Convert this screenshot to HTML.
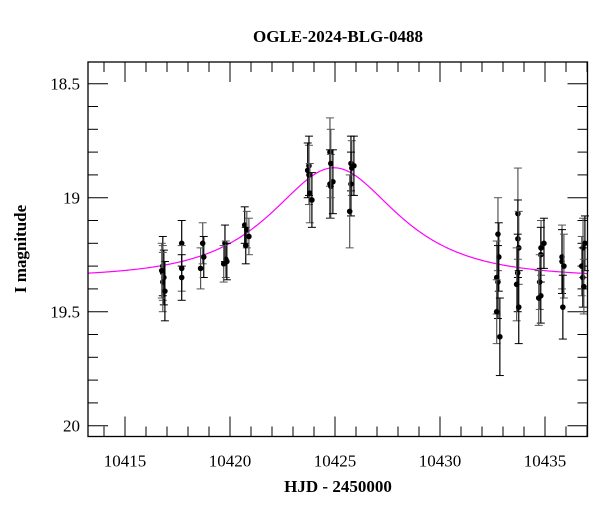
<!DOCTYPE html>
<html><head><meta charset="utf-8"><style>
html,body{margin:0;padding:0;background:#fff;}
svg{display:block;font-family:"Liberation Serif",serif;}
</style></head><body>
<svg id="chart" width="600" height="512" viewBox="0 0 600 512" xmlns="http://www.w3.org/2000/svg">
<text x="338" y="42" text-anchor="middle" font-size="17" font-weight="bold">OGLE-2024-BLG-0488</text>
<text x="338" y="492" text-anchor="middle" font-size="17" font-weight="bold">HJD - 2450000</text>
<text x="26" y="249" text-anchor="middle" font-size="17" font-weight="bold" transform="rotate(-90 26 249)">I magnitude</text>
<g id="axes"></g>
<g id="model"></g>
<g id="points"></g>
<rect x="88" y="62" width="499.5" height="374.5" fill="none" stroke="#000" stroke-width="1.3"/>
</svg>
<script>
const times = [10416.8,10416.8,10416.85,10416.8,10416.9,10416.75,
10417.7,10417.7,10417.7,
10418.7,10418.75,10418.6,
10419.76,10419.8,10419.85,10419.7,
10420.7,10420.8,10420.75,10420.9,
10423.76,10423.76,10423.7,10423.8,10423.9,
10424.76,10424.76,10424.8,10424.9,10424.8,
10425.76,10425.8,10425.76,10425.7,10425.9,
10432.76,10432.8,10432.7,10432.76,10432.7,10432.85,
10433.71,10433.71,10433.75,10433.7,10433.65,10433.75,
10434.81,10434.8,10434.75,10434.8,10434.7,10434.95,
10435.81,10435.81,10435.9,10435.85,
10436.81,10436.9,10436.75,10436.8,10436.85];
const mags = [19.30,19.33,19.35,19.37,19.41,19.32,
19.20,19.31,19.35,
19.20,19.26,19.31,
19.20,19.27,19.28,19.29,
19.12,19.14,19.21,19.17,
18.86,18.90,18.88,18.98,19.01,
18.80,18.94,18.95,18.93,18.85,
18.85,18.87,18.94,19.06,18.86,
19.16,19.26,19.35,19.37,19.50,19.61,
19.07,19.18,19.22,19.33,19.38,19.48,
19.22,19.25,19.37,19.43,19.44,19.20,
19.26,19.28,19.30,19.48,
19.22,19.20,19.30,19.35,19.39];
const errs = [0.13,0.12,0.12,0.13,0.13,0.12,
0.1,0.1,0.1,
0.09,0.09,0.09,
0.08,0.08,0.08,0.08,
0.08,0.08,0.08,0.08,
0.13,0.13,0.12,0.13,0.12,
0.15,0.15,0.14,0.14,0.15,
0.12,0.12,0.14,0.16,0.13,
0.16,0.15,0.16,0.16,0.14,0.17,
0.2,0.17,0.16,0.17,0.16,0.16,
0.12,0.12,0.12,0.12,0.12,0.11,
0.14,0.14,0.14,0.14,
0.13,0.12,0.13,0.13,0.12];
// model parameters
const modelBase = [19.35];
const modelT0 = [10424.95];
const modelU0 = [0.78];
const modelTE = [4.1];
const xTicks = [10415,10420,10425,10430,10435];
const yTicks = [18.5,19,19.5,20];

const NS='http://www.w3.org/2000/svg';
const X0=88,X1=587.5,Y0=62,Y1=436.5;
function xs(t){return 230+(t-10420)*21;}
function ys(m){return 197.7+(m-19)*228;}
const tMin=10420+(X0-230)/21, tMax=10420+(X1-230)/21;
const mMin=19+(Y0-197.7)/228, mMax=19+(Y1-197.7)/228;
function mk(tag,attrs,parent){const e=document.createElementNS(NS,tag);for(const k in attrs)e.setAttribute(k,attrs[k]);parent.appendChild(e);return e;}

const axes=document.getElementById('axes');
for(let t=Math.ceil(tMin);t<=tMax;t++){
  const major=xTicks.includes(t);const L=major?20:10;const x=xs(t);
  const a=mk('line',{x1:x,x2:x,y1:Y1,y2:Y1-L,stroke:'#000','stroke-width':1},axes);
  
  
  const b=mk('line',{x1:x,x2:x,y1:Y0,y2:Y0+L,stroke:'#000','stroke-width':1},axes);
  
  
}
xTicks.forEach(t=>{
  const tx=mk('text',{x:xs(t),y:Y1+30,'text-anchor':'middle','font-size':17},axes);
  tx.textContent=String(t);
  
  
});
for(let i=Math.ceil(mMin*10);i<=Math.floor(mMax*10);i++){
  const m=i/10;const major=(i%5===0);const L=major?20:10;const y=ys(m);
  const a=mk('line',{x1:X0,x2:X0+L,y1:y,y2:y,stroke:'#000','stroke-width':1},axes);
  
  
  const b=mk('line',{x1:X1,x2:X1-L,y1:y,y2:y,stroke:'#000','stroke-width':1},axes);
  
  
}
yTicks.forEach(m=>{
  const tx=mk('text',{x:X0-8,y:ys(m)+6,'text-anchor':'end','font-size':17},axes);
  tx.textContent=String(m);
  
  
});

// model curve
function ampl(u){return (u*u+2)/(u*Math.sqrt(u*u+4));}
let d='';
for(let px=X0;px<=X1;px+=1){
  const t=10420+(px-230)/21;
  const tau=(t-modelT0[0])/modelTE[0];
  const u=Math.sqrt(modelU0[0]*modelU0[0]+tau*tau);
  const m=modelBase[0]-2.5*Math.log10(ampl(u));
  d+=(px===X0?'M':'L')+px.toFixed(1)+','+ys(m).toFixed(2);
}
const path=mk('path',{d:d,fill:'none',stroke:'#ff00ff','stroke-width':1.2},document.getElementById('model'));



// points
const pg=document.getElementById('points');
times.forEach((t,i)=>{
  const x=xs(t),y=ys(mags[i]),e=errs[i]*228;
  const g=mk('g',{},pg);
  
  
  const col=i%2?'#555':'#000';
  mk('line',{x1:x,x2:x,y1:y-e,y2:y+e,stroke:col,'stroke-width':1.2},g);
  mk('line',{x1:x-4,x2:x+4,y1:y-e,y2:y-e,stroke:col,'stroke-width':1},g);
  mk('line',{x1:x-4,x2:x+4,y1:y+e,y2:y+e,stroke:col,'stroke-width':1},g);
  mk('circle',{cx:x,cy:y,r:2.8,fill:'#000'},g);
});
</script>
</body></html>
